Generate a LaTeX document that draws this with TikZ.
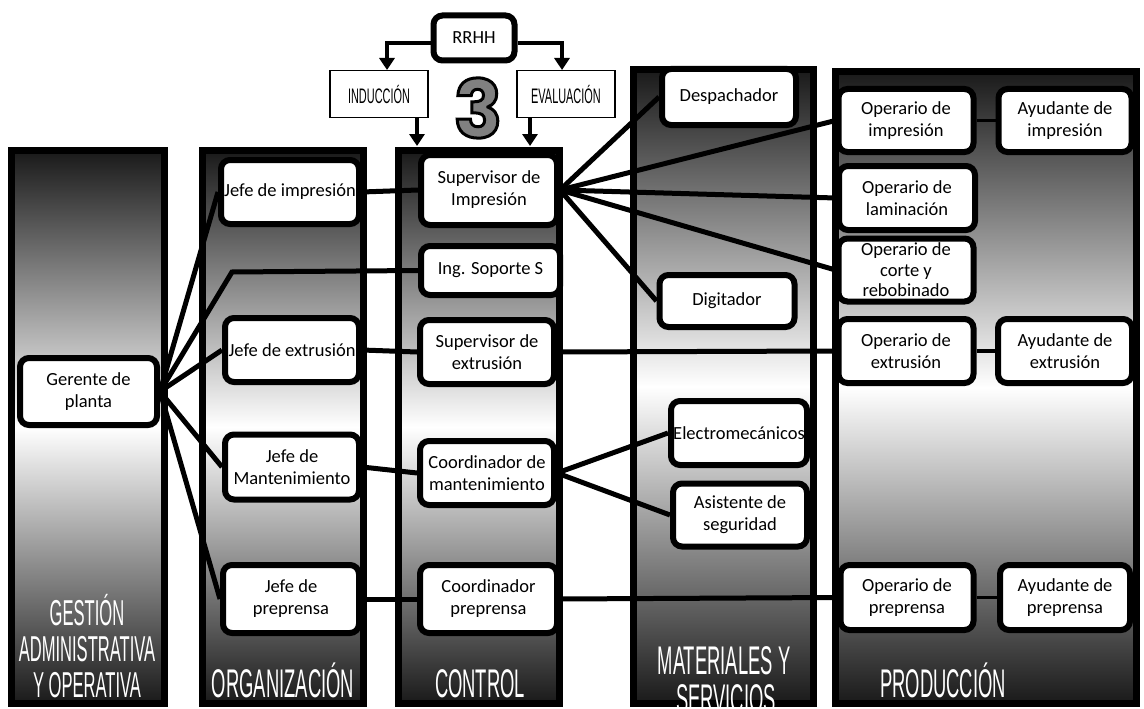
\documentclass[tikz,border=0pt]{standalone}
\usepackage{fontspec}
\setmainfont{Carlito}
\newfontfamily\headfont{Liberation Sans}[FakeStretch=0.46]
\newfontfamily\labelfont{Liberation Sans}[FakeStretch=0.52]
\newfontfamily\numfont{Poppins}
\usetikzlibrary{arrows.meta,calc}

\pgfdeclarelayer{cols}
\pgfdeclarelayer{links}
\pgfsetlayers{cols,links,main}

% outlined glyph: fill with the current colour, stroke in black
\newcommand{\outlined}[1]{\special{pdf:literal direct 2 Tr 3 w 0 0 0 RG}#1\special{pdf:literal direct 0 Tr}}

\tikzset{
  colfill/.style={top color=black!90, bottom color=black!90, middle color=white},
  colborder/.style={draw=black, line width=7pt},
  box/.style={draw=black, line width=6pt, fill=white, rounded corners=9pt,
    align=center, inner sep=0pt, font=\fontsize{18.5}{22}\selectfont},
  link/.style={draw=black, line width=5pt},
  sidelink/.style={draw=black, line width=3.5pt},
  tag/.style={anchor=base, text=white, inner sep=0pt,
    font=\headfont\fontsize{40}{40}\selectfont},
  smalltag/.style={tag, font=\headfont\fontsize{36}{36}\selectfont},
  plainbox/.style={draw=black, line width=1.3pt, fill=white, inner sep=0pt,
    font=\labelfont\fontsize{21}{21}\selectfont},
  arrowline/.style={draw=black, line width=4pt,
    -{Triangle[width=15pt,length=12pt]}},
  digit/.style={inner sep=0pt, font=\numfont\bfseries\fontsize{80}{80}\selectfont}
}

\begin{document}
\begin{tikzpicture}[x=1pt,y=-1pt]
\useasboundingbox (0,0) rectangle (1144,709);

% ---- columns: shaded bands, their titles, then the frames
\begin{pgfonlayer}{cols}
\begin{scope}
\clip (0,0) rectangle (1144,709);
\shade[colfill] (11.5,150.5) rectangle (164.5,703.5);
\shade[colfill] (202.5,150.5) rectangle (363.5,703.5);
\shade[colfill] (398.5,150.5) rectangle (559.5,703.5);
\shade[colfill] (633.5,69.5) rectangle (813.5,703.5);
\shade[colfill] (835.5,71.5) rectangle (1136.5,703.5);

\node[smalltag] (lg1) at (87,625) {GESTIÓN};
\node[smalltag] (lg2) at (87,661) {ADMINISTRATIVA};
\node[smalltag] (lg3) at (87,697) {Y OPERATIVA};
\node[tag] (lorg) at (283,697) {ORGANIZACIÓN};
\node[tag] (lctl) at (480,697) {CONTROL};
\node[tag] (lprod) at (943,697) {PRODUCCIÓN};
\node[tag] (lmat1) at (724,674) {MATERIALES Y};

\draw[colborder] (11.5,150.5) rectangle (164.5,703.5);
\draw[colborder] (202.5,150.5) rectangle (363.5,703.5);
\draw[colborder] (398.5,150.5) rectangle (559.5,703.5);
\draw[colborder] (633.5,69.5) rectangle (813.5,703.5);
\draw[colborder] (835.5,71.5) rectangle (1136.5,703.5);

\node[tag] (lmat2) at (726,712) {SERVICIOS};
\end{scope}
\end{pgfonlayer}

% ---- boxes
\node[box, minimum width=137pt, minimum height=67pt] (gerente) at (88.5,391.5) {Gerente de\\planta};

\node[box, minimum width=138pt, minimum height=64pt] (jimp) at (290,192) {Jefe de impresión};
\node[box, minimum width=134pt, minimum height=64pt] (jext) at (292,350) {Jefe de extrusión};
\node[box, minimum width=134pt, minimum height=65pt] (jman) at (292,467) {Jefe de\\Mantenimiento};
\node[box, minimum width=136pt, minimum height=68pt] (jpre) at (291,599) {Jefe de\\preprensa};

\node[box, minimum width=136pt, minimum height=70pt] (simp) at (489,190) {Supervisor de\\Impresión};
\node[box, minimum width=139pt, minimum height=49pt] (ing) at (490.5,270.5) {Ing. Soporte S};
\node[box, minimum width=134pt, minimum height=64pt] (sext) at (487,352) {Supervisor de\\extrusión};
\node[box, minimum width=134pt, minimum height=64pt] (cman) at (487,473) {Coordinador de\\mantenimiento};
\node[box, minimum width=137pt, minimum height=68pt] (cpre) at (488.5,599) {Coordinador\\preprensa};

\node[box, minimum width=134pt, minimum height=56pt] (desp) at (729,97) {Despachador};
\node[box, minimum width=135pt, minimum height=52pt] (digi) at (727,301) {Digitador};
\node[box, minimum width=136pt, minimum height=64pt] (elec) at (739,433) {Electromecánicos};
\node[box, minimum width=134pt, minimum height=63pt] (asis) at (740,515) {Asistente de\\seguridad};

\node[box, minimum width=135pt, minimum height=63pt] (opimp) at (906,120.5) {Operario de\\impresión};
\node[box, minimum width=133pt, minimum height=63pt] (ayimp) at (1065,120.5) {Ayudante de\\impresión};
\node[box, minimum width=136pt, minimum height=64pt] (oplam) at (907,198) {Operario de\\laminación};
\node[box, minimum width=135pt, minimum height=63pt, font=\fontsize{18.5}{20.5}\selectfont] (opcor) at (906,270) {Operario de\\corte y\\rebobinado};
\node[box, minimum width=135pt, minimum height=64pt] (opext) at (906,351) {Operario de\\extrusión};
\node[box, minimum width=134pt, minimum height=64pt] (ayext) at (1065,351) {Ayudante de\\extrusión};
\node[box, minimum width=133pt, minimum height=65pt] (oppre) at (907,597.5) {Operario de\\preprensa};
\node[box, minimum width=130pt, minimum height=65pt] (aypre) at (1065,597.5) {Ayudante de\\preprensa};

% ---- top group: RRHH feeding induction and evaluation
\node[box, minimum width=81pt, minimum height=45pt] (rrhh) at (474,38) {RRHH};
\node[plainbox, minimum width=98pt, minimum height=47pt] (ind) at (379,94) {INDUCCIÓN};
\node[plainbox, minimum width=98pt, minimum height=47pt] (eva) at (566,94) {EVALUACIÓN};
\coordinate (indtip) at (417,146);
\coordinate (evatip) at (530,146);
\coordinate (indtop) at (387,70);
\coordinate (evatop) at (562,70);

% outlined numeral
\node[digit, text=black!50] (three) at (478,108) {\outlined{3}};

% ---- connectors
\coordinate (ingbend) at (232,272);
\begin{pgfonlayer}{links}
\draw[link] (gerente.east) -- (jimp.west);
\draw[link] (gerente.east) -- (ingbend) -- (ing.west);
\draw[link] (gerente.east) -- (jext.west);
\draw[link] (gerente.east) -- (jman.west);
\draw[link] (gerente.east) -- (jpre.west);

\draw[link] (jimp.east) -- (simp.west);
\draw[link] (jext.east) -- (sext.west);
\draw[link] (jman.east) -- (cman.west);
\draw[link] (jpre.east) -- (cpre.west);

\draw[link] (simp.east) -- (desp.west);
\draw[link] (simp.east) -- (opimp.west);
\draw[link] (simp.east) -- (oplam.west);
\draw[link] (simp.east) -- (opcor.west);
\draw[link] (simp.east) -- (digi.west);

\draw[link] (sext.east) -- (opext.west);
\draw[link] (cman.east) -- (elec.west);
\draw[link] (cman.east) -- (asis.west);
\draw[link] (cpre.east) -- (oppre.west);

\draw[sidelink] (opimp.east) -- (ayimp.west);
\draw[sidelink] (opext.east) -- (ayext.west);
\draw[sidelink] (oppre.east) -- (aypre.west);
\end{pgfonlayer}

\draw[arrowline] (rrhh.west |- 0,43) -| (indtop);
\draw[arrowline] (rrhh.east |- 0,43) -| (evatop);
\draw[arrowline] (ind.south -| indtip) -- (indtip);
\draw[arrowline] (eva.south -| evatip) -- (evatip);

\end{tikzpicture}
\end{document}
